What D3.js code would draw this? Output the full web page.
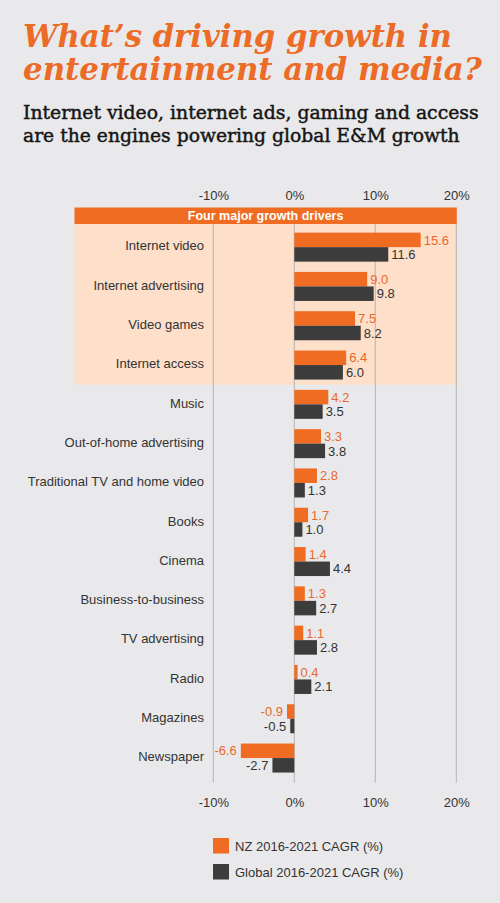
<!DOCTYPE html>
<html>
<head>
<meta charset="utf-8">
<script src="https://cdn.jsdelivr.net/npm/d3@7"></script>
<style>
  html, body { margin: 0; padding: 0; background: #e9e9eb; }
  svg { display: block; }
</style>
</head>
<body>
<svg></svg>
<script>
// Chart data
let categories = [
  'Internet video', 'Internet advertising', 'Video games', 'Internet access',
  'Music', 'Out-of-home advertising', 'Traditional TV and home video', 'Books',
  'Cinema', 'Business-to-business', 'TV advertising', 'Radio', 'Magazines', 'Newspaper'
];
let nzValues = [15.6, 9.0, 7.5, 6.4, 4.2, 3.3, 2.8, 1.7, 1.4, 1.3, 1.1, 0.4, -0.9, -6.6];
let globalValues = [11.6, 9.8, 8.2, 6.0, 3.5, 3.8, 1.3, 1.0, 4.4, 2.7, 2.8, 2.1, -0.5, -2.7];
let tickValues = [-10, 0, 10, 20];
let seriesNames = ['NZ 2016-2021 CAGR (%)', 'Global 2016-2021 CAGR (%)'];
let highlightCount = 4;
let highlightTitle = 'Four major growth drivers';
let titleLines = ['What\u2019s driving growth in', 'entertainment and media?'];
let subtitleLines = [
  'Internet video, internet ads, gaming and access',
  'are the engines powering global E&M growth'
];

// Colours
let orange = '#ef6c22';
let orangeText = '#e9692a';
let darkBar = '#3c3c3c';
let peach = '#fddfca';
let gridColor = '#b4b4b4';
let textColor = '#333';

let svgWidth = 500;
let svgHeight = 903;

let svg = d3.select('svg')
  .attr('width', svgWidth)
  .attr('height', svgHeight);

svg.append('rect')
  .attr('width', svgWidth)
  .attr('height', svgHeight)
  .attr('fill', '#e9e9eb');

/**
 * Write lines of text at a fixed size and squeeze them horizontally
 * so that each line fills its target width
 */
function fittedLines(lines, widths, baselines, attrs) {
  let texts = svg.append('g')
    .selectAll('text')
    .data(lines)
    .enter()
    .append('text')
    .attr('font-family', attrs.family)
    .attr('font-weight', attrs.weight)
    .attr('font-style', attrs.style)
    .attr('font-size', attrs.size)
    .attr('fill', attrs.fill)
    .attr('stroke', attrs.stroke || 'none')
    .attr('stroke-width', attrs.strokeWidth || 0)
    .text(d => d);
  texts.each(function (d, i) {
    let sx = widths[i] / this.getComputedTextLength();
    d3.select(this)
      .attr('transform', 'translate(23, ' + baselines[i] + ') scale(' + sx + ', 1)');
  });
}

// Title and subtitle
fittedLines(titleLines, [429, 459], [47, 80],
  {family: 'DejaVu Serif', weight: 'bold', style: 'italic', size: 31, fill: '#ec6b26'});
fittedLines(subtitleLines, [456, 437], [119, 142],
  {family: 'DejaVu Serif', weight: 'normal', style: 'normal', size: 18.5,
   fill: '#151515', stroke: '#151515', strokeWidth: 0.45});

// Scales
let xScale = d3.scaleLinear()
  .domain([-10, 20])
  .range([213.3, 456.3]);

let yScale = d3.scaleBand()
  .domain(categories)
  .range([227.5, 227.5 + 39.3 * categories.length]);

let subScale = d3.scaleBand()
  .domain(['nz', 'global'])
  .range([-14.5, 14.5]);

let rows = categories.map((c, i) => ({
  name: c,
  nz: nzValues[i],
  global: globalValues[i]
}));

let plotTop = yScale.range()[0];
let plotBottom = yScale.range()[1];
let bandLeft = 74.5;
let bandRight = xScale(20) + 0.5;

// Highlight band for the growth drivers
svg.append('rect')
  .attr('x', bandLeft)
  .attr('y', plotTop - 3.5)
  .attr('width', bandRight - bandLeft)
  .attr('height', yScale(categories[highlightCount]) - plotTop + 3.5)
  .attr('fill', peach);

svg.append('rect')
  .attr('x', bandLeft)
  .attr('y', plotTop - 20)
  .attr('width', bandRight - bandLeft)
  .attr('height', 16.5)
  .attr('fill', orange);

svg.append('text')
  .attr('x', (bandLeft + bandRight) / 2)
  .attr('y', plotTop - 7.5)
  .attr('text-anchor', 'middle')
  .attr('font-family', 'Liberation Sans, Arial, sans-serif')
  .attr('font-weight', 'bold')
  .attr('font-size', '12.5px')
  .attr('fill', '#fff')
  .text(highlightTitle);

// Vertical grid lines
svg.append('g')
  .selectAll('line')
  .data(tickValues)
  .enter()
  .append('line')
  .attr('x1', d => xScale(d))
  .attr('x2', d => xScale(d))
  .attr('y1', plotTop - 3.5)
  .attr('y2', plotBottom + 5)
  .attr('stroke', gridColor)
  .attr('stroke-width', 1);

// Axes (labels only)
let tickFormat = d => String(d).replace('\u2212', '-') + '%';

let xAxisTop = d3.axisTop(xScale)
  .tickValues(tickValues)
  .tickSize(0)
  .tickPadding(3)
  .tickFormat(tickFormat);

let xAxisBottom = d3.axisBottom(xScale)
  .tickValues(tickValues)
  .tickSize(0)
  .tickPadding(15)
  .tickFormat(tickFormat);

svg.append('g')
  .attr('class', 'axis')
  .attr('transform', 'translate(0, 203)')
  .call(xAxisTop);

svg.append('g')
  .attr('class', 'axis')
  .attr('transform', 'translate(0, ' + (plotBottom + 5) + ')')
  .call(xAxisBottom);

svg.selectAll('.axis .domain').remove();
svg.selectAll('.axis text')
  .attr('font-family', 'Liberation Sans, Arial, sans-serif')
  .attr('font-size', '13px')
  .attr('fill', textColor);

// Category labels
svg.append('g')
  .selectAll('text')
  .data(rows)
  .enter()
  .append('text')
  .attr('x', 204)
  .attr('y', d => yScale(d.name) + yScale.bandwidth() / 2)
  .attr('dy', '0.25em')
  .attr('text-anchor', 'end')
  .attr('font-family', 'Liberation Sans, Arial, sans-serif')
  .attr('font-size', '13px')
  .attr('fill', textColor)
  .text(d => d.name);

// Bars and value labels
let series = [
  {key: 'nz', fill: orange, text: orangeText},
  {key: 'global', fill: darkBar, text: textColor}
];

let numFormat = v => (v < 0 ? '-' : '') + Math.abs(v).toFixed(1);

for (let s of series) {
  let g = svg.append('g');
  let rowY = d => yScale(d.name) + yScale.bandwidth() / 2 + subScale(s.key);

  g.selectAll('rect')
    .data(rows)
    .enter()
    .append('rect')
    .attr('x', d => xScale(Math.min(0, d[s.key])))
    .attr('y', rowY)
    .attr('width', d => Math.abs(xScale(d[s.key]) - xScale(0)))
    .attr('height', subScale.bandwidth())
    .attr('fill', s.fill);

  g.selectAll('text')
    .data(rows)
    .enter()
    .append('text')
    .attr('x', d => d[s.key] < 0 ? xScale(d[s.key]) - 4 : xScale(d[s.key]) + 3)
    .attr('y', d => rowY(d) + subScale.bandwidth() / 2)
    .attr('dy', '0.36em')
    .attr('text-anchor', d => d[s.key] < 0 ? 'end' : 'start')
    .attr('font-family', 'Liberation Sans, Arial, sans-serif')
    .attr('font-size', '13px')
    .attr('fill', s.text)
    .text(d => numFormat(d[s.key]));
}

// Legend
let legend = svg.append('g')
  .attr('transform', 'translate(213, 838)');

let legendItems = legend.selectAll('g')
  .data(series.map((s, i) => ({name: seriesNames[i], fill: s.fill})))
  .enter()
  .append('g')
  .attr('transform', (d, i) => 'translate(0, ' + i * 26 + ')');

legendItems.append('rect')
  .attr('width', 16)
  .attr('height', 15.5)
  .attr('fill', d => d.fill);

legendItems.append('text')
  .attr('x', 22)
  .attr('y', 13)
  .attr('font-family', 'Liberation Sans, Arial, sans-serif')
  .attr('font-size', '13px')
  .attr('fill', textColor)
  .text(d => d.name);
</script>
</body>
</html>
